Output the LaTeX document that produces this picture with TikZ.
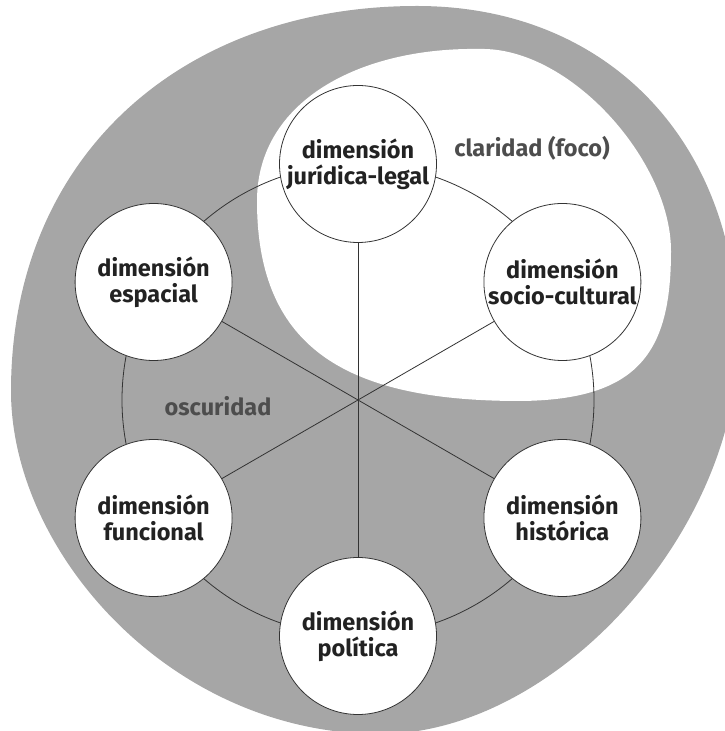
\documentclass[tikz,border=0pt]{standalone}
\usepackage{fontspec}
\setmainfont{Fira Sans}

\definecolor{blobgray}{HTML}{A6A6A6}
\definecolor{linegray}{HTML}{333333}
\definecolor{textdark}{HTML}{222222}
\definecolor{zonetext}{HTML}{4D4D4D}

\begin{document}
\begin{tikzpicture}[x=1pt, y=1pt,
      dimcircle/.style={circle, draw=linegray, fill=white, line width=0.8pt,
        minimum size=157pt, inner sep=0pt, align=center,
        font=\fontsize{23.5}{26}\selectfont\bfseries, text=textdark},
      zonelabel/.style={anchor=base, font=\fontsize{23.5}{26}\selectfont\bfseries, text=zonetext},
      spoke/.style={draw=linegray, line width=0.8pt}]

    \useasboundingbox (0,0) rectangle (725,731);

    % oscuridad
    \fill[blobgray] (417,725)
      .. controls (607,725) and (738,590) .. (738,390)
      .. controls (738,200) and (556,-3) .. (380,-3)
      .. controls (171,-3) and (11,179) .. (11,340)
      .. controls (11,573) and (180,725) .. (417,725) -- cycle;

    % claridad
    \fill[white] (257,530)
      .. controls (257,630) and (360,684) .. (480,682)
      .. controls (570,684) and (671,570) .. (671,480)
      .. controls (671,380) and (640,331) .. (520,330)
      .. controls (350,330) and (257,380) .. (257,530) -- cycle;

    \coordinate (c) at (358,331);
    \draw[spoke] (c) circle[radius=236];

    \node[dimcircle] (jur) at (358,567)   {dimensión\\jurídica-legal};
    \node[dimcircle] (soc) at (562.4,449) {dimensión\\socio-cultural};
    \node[dimcircle] (his) at (562.4,213) {dimensión\\histórica};
    \node[dimcircle] (pol) at (358,95)    {dimensión\\política};
    \node[dimcircle] (fun) at (153.6,213) {dimensión\\funcional};
    \node[dimcircle] (esp) at (153.6,449) {dimensión\\espacial};

    \node[zonelabel] (clar) at (532,574) {claridad (foco)};
    \node[zonelabel] (osc)  at (218,315) {oscuridad};

    \draw[spoke] (c) -- (jur);
    \draw[spoke] (c) -- (soc);
    \draw[spoke] (c) -- (his);
    \draw[spoke] (c) -- (pol);
    \draw[spoke] (c) -- (fun);
    \draw[spoke] (c) -- (esp);

\end{tikzpicture}
\end{document}
